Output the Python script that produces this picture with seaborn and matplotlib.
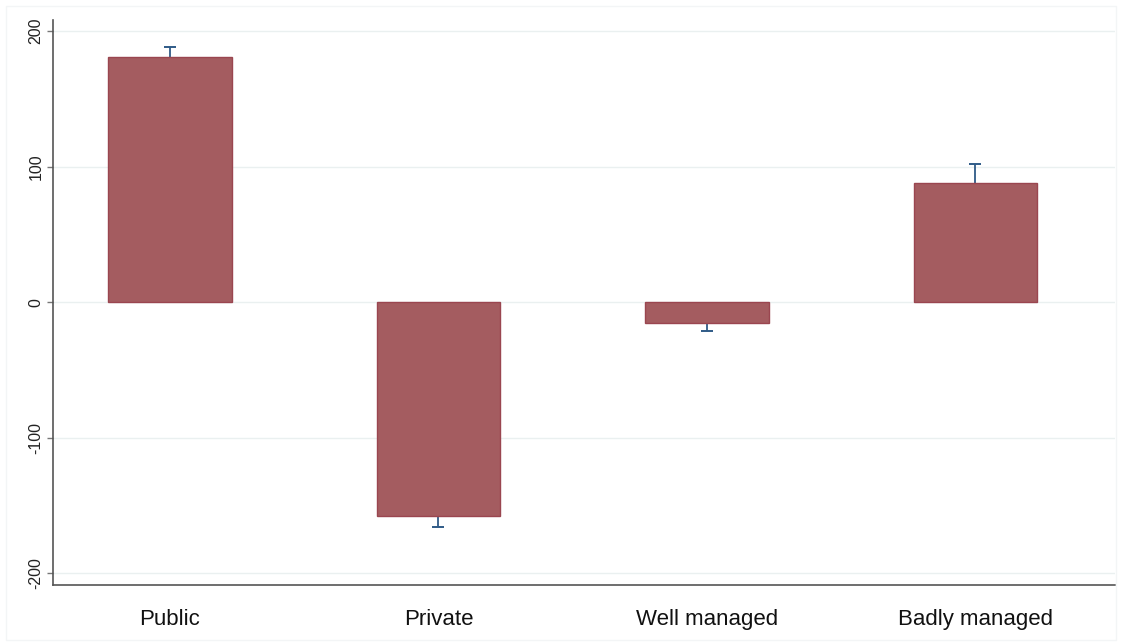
import matplotlib
matplotlib.use("Agg")
import matplotlib.pyplot as plt
import seaborn as sns
import pandas as pd
import numpy as np
from matplotlib.patches import Rectangle

categories = ["Public", "Private", "Well managed", "Badly managed"]
values = [181, -158, -15, 88]
ci_outer = [188, -166, -21, 102]
yticks = [-200, -100, 0, 100, 200]

df = pd.DataFrame({"category": categories, "value": values, "ci": ci_outer})

sns.set_theme(style="white")
plt.rcParams["font.family"] = ["Liberation Sans", "DejaVu Sans"]

fig = plt.figure(figsize=(11.22, 6.43), dpi=100)
fig.patch.set_facecolor("white")
fig.patches.append(Rectangle((6 / 1122, 3 / 643), 1 - 12 / 1122, 1 - 9 / 643,
                             transform=fig.transFigure, fill=False,
                             edgecolor="#f3f5f6", lw=1))
ax = fig.add_axes([53 / 1122, 58 / 643, (1115 - 53) / 1122, (585 - 20) / 643])

sns.barplot(data=df, x="category", y="value", color="#a45c60", saturation=1,
            width=0.46, errorbar=None, edgecolor="#9a4650", linewidth=1,
            zorder=3, ax=ax)

pos = np.arange(len(categories))
ax.vlines(pos, df["value"], df["ci"], color="#2f5b87", lw=1.3, zorder=2)
ax.plot(pos, df["ci"], linestyle="none", marker="_", markersize=8,
        markeredgewidth=1.4, color="#2f5b87", zorder=2)

ax.set_xlim(-0.436, 3.52)
ax.set_ylim(-208.5, 208)
ax.set_yticks(yticks)
ax.set_yticklabels([str(t) for t in yticks], rotation=90, va="center",
                   fontsize=11.5, color="#222222")
ax.tick_params(axis="y", left=True, length=4, width=1, color="#777777", pad=3)
ax.tick_params(axis="x", length=0, pad=17, labelsize=16, labelcolor="#111111")
ax.set_xlabel("")
ax.set_ylabel("")

ax.set_axisbelow(True)
ax.yaxis.grid(True, color="#eaf0f0", lw=1)
ax.xaxis.grid(False)
for s in ["top", "right"]:
    ax.spines[s].set_visible(False)
for s in ["left", "bottom"]:
    ax.spines[s].set_color("#555555")
    ax.spines[s].set_linewidth(1.2)

fig.savefig("out.png", dpi=100, facecolor="white")
